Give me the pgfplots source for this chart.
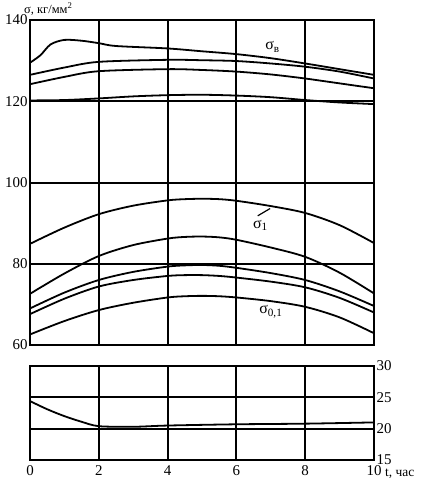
\documentclass[border=0pt]{standalone}
\usepackage{fontspec}
\setmainfont{Liberation Serif}
\usepackage{pgfplots}
\pgfplotsset{compat=1.18}

\pgfplotsset{
  chart/.style={
    scale only axis,
    width=344bp,
    xmin=0, xmax=10,
    xtick={0,2,4,6,8,10},
    grid=major,
    major grid style={line width=2bp, black},
    axis line style={line width=2bp, black},
    major tick length=0pt,
    tick label style={font=\fontsize{15}{15}\selectfont},
    /pgf/number format/assume math mode=true,
    cycle list={black,solid,line width=1.8bp,smooth,mark=none\\},
  },
}

\begin{document}
\begin{tikzpicture}[x=1bp,y=1bp]
\useasboundingbox (0,0) rectangle (425,-487);

\begin{axis}[chart,
    at={(30bp,-345bp)}, anchor=south west,
    height=325bp,
    ymin=60, ymax=140,
    ytick={60,80,100,120,140},
    xticklabels={},
    yticklabel style={xshift=1bp},
  ]
  % sigma_v
  \addplot coordinates {(0,129.5) (0.3,131.3) (0.6,134.0) (1.0,135.1) (1.5,134.9) (2,134.3) (2.5,133.6) (4,133.0) (5,132.3) (6,131.6) (7,130.6) (8,129.3) (9,127.9) (10,126.5)};
  \addplot coordinates {(0,126.5) (1,128.3) (2,129.7) (4,130.2) (5,130.1) (6,129.9) (7,129.3) (8,128.5) (9,127.3) (10,125.6)};
  \addplot coordinates {(0,124.2) (1,126.0) (2,127.4) (4,127.9) (5,127.7) (6,127.3) (7,126.6) (8,125.6) (9,124.4) (10,123.2)};
  \addplot coordinates {(0,120.2) (1,120.3) (2,120.7) (3,121.2) (4,121.5) (5,121.6) (6,121.4) (7,121.0) (8,120.3) (9,119.7) (10,119.3)};
  % sigma_1 group
  \addplot coordinates {(0,84.9) (1,88.9) (2,92.2) (3,94.3) (4,95.6) (4.5,95.9) (5,96.0) (5.5,95.9) (6,95.5) (7,94.2) (8,92.5) (9,89.5) (10,85.1)};
  \addplot coordinates {(0,72.6) (1,77.6) (2,81.9) (3,84.6) (4,86.2) (4.5,86.6) (5,86.7) (5.5,86.5) (6,85.9) (7,84.0) (8,81.7) (9,77.8) (10,72.7)};
  \addplot coordinates {(0,69.0) (1,72.9) (2,76.0) (3,78.0) (4,79.3) (4.5,79.6) (5,79.7) (5.5,79.5) (6,79.0) (7,77.7) (8,76.0) (9,73.2) (10,69.6)};
  \addplot coordinates {(0,67.6) (1,71.4) (2,74.4) (3,76.0) (4,77.0) (4.5,77.2) (5,77.2) (5.5,77.0) (6,76.6) (7,75.6) (8,74.2) (9,71.6) (10,68.0)};
  \addplot coordinates {(0,62.6) (1,65.9) (2,68.6) (3,70.4) (4,71.7) (4.5,72.0) (5,72.1) (5.5,72.0) (6,71.7) (7,70.8) (8,69.4) (9,66.8) (10,62.9)};

  \node[font=\fontsize{16}{16}\selectfont, inner sep=0pt] at (axis cs:7.05,133.4) {σ\textsubscript{в}};
  \node[font=\fontsize{16}{16}\selectfont, inner sep=0pt] at (axis cs:6.7,89.4) {σ\textsubscript{1}};
  \draw[line width=1.2bp] (axis cs:6.62,91.8) -- (axis cs:6.98,93.6);
  \node[font=\fontsize{16}{16}\selectfont, inner sep=0pt] at (axis cs:7.0,68.2) {σ\textsubscript{0,1}};
\end{axis}

\begin{axis}[chart,
    at={(30bp,-460bp)}, anchor=south west,
    height=94bp,
    ymin=15, ymax=30,
    ytick={15,20,25,30},
    yticklabel pos=right,
    yticklabel style={xshift=-1bp},
    xticklabel style={yshift=-2bp},
  ]
  \addplot coordinates {(0,24.4) (0.5,23.1) (1,22.0) (1.5,21.1) (2,20.4) (3,20.3) (4,20.5) (6,20.7) (8,20.8) (10,21.0)};
\end{axis}

\node[anchor=north west, font=\fontsize{12.5}{12.5}\selectfont, inner sep=0pt] at (24,-3) {σ, кг/мм\textsuperscript{2}};
\node[anchor=west, font=\fontsize{13.5}{13.5}\selectfont, inner sep=0pt] at (385,-474) {t, час};
\end{tikzpicture}
\end{document}
